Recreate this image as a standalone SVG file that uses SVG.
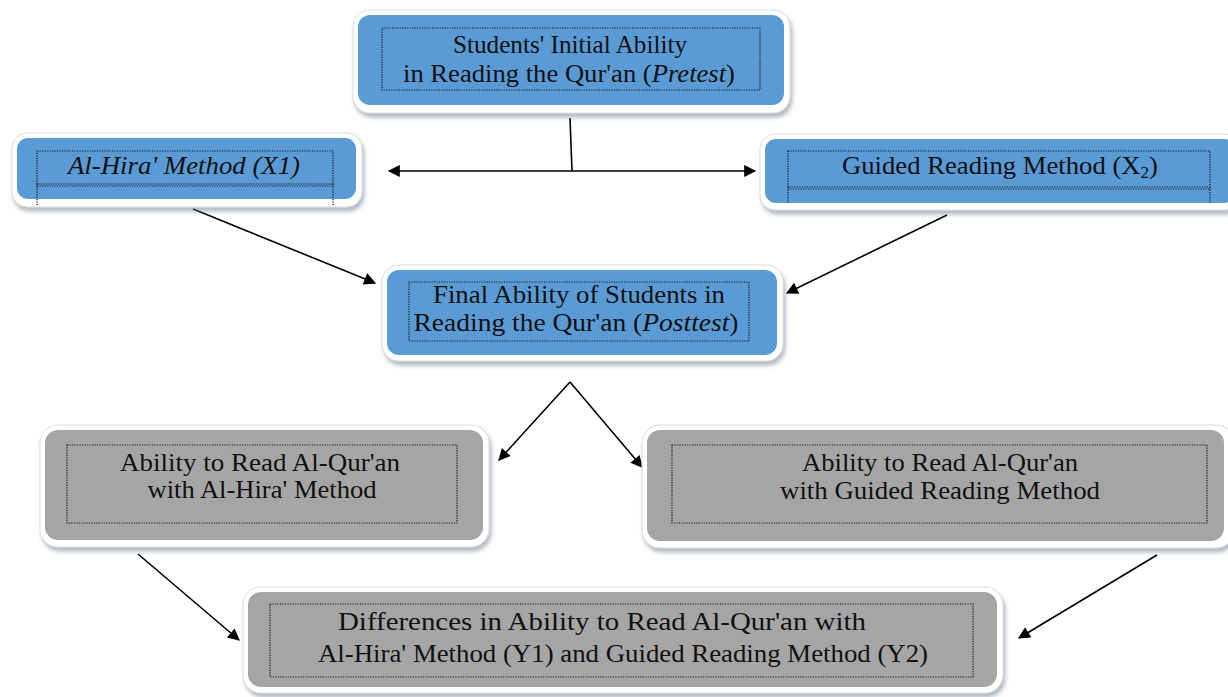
<svg xmlns="http://www.w3.org/2000/svg" width="1228" height="697" viewBox="0 0 1228 697">
<defs>
<filter id="sh" x="-10%" y="-20%" width="120%" height="150%">
<feDropShadow dx="2" dy="4" stdDeviation="2" flood-color="#6f7f90" flood-opacity="0.55"/>
</filter>
<marker id="ah" viewBox="0 0 10 10" refX="9" refY="5" markerWidth="15" markerHeight="12" markerUnits="userSpaceOnUse" orient="auto-start-reverse">
<path d="M0,0 L10,5 L0,10 z" fill="#000"/>
</marker>
</defs>
<style>
.frame{fill:#ffffff;stroke:#dcdcdc;stroke-width:1;filter:url(#sh)}
.blue{fill:#5b9bd5}
.gray{fill:#a5a5a5}
.dot{fill:none;stroke:#1a1a1a;stroke-width:1.2;stroke-dasharray:1.2 1.3}
.t{font-family:'Liberation Serif','DejaVu Serif','Times New Roman',serif;font-size:25px;fill:#111;text-anchor:middle}
.c{stroke:#000;stroke-width:1.6;fill:none}
</style>
<rect width="1228" height="697" fill="#ffffff"/>

<g id="connectors">
<line class="c" x1="570" y1="118" x2="572" y2="171"/>
<line class="c" x1="389" y1="171" x2="755" y2="171" marker-start="url(#ah)" marker-end="url(#ah)"/>
<line class="c" x1="193" y1="209" x2="375" y2="283" marker-end="url(#ah)"/>
<line class="c" x1="947" y1="215" x2="787" y2="293" marker-end="url(#ah)"/>
<line class="c" x1="570" y1="382" x2="499" y2="460" marker-end="url(#ah)"/>
<line class="c" x1="570" y1="382" x2="642" y2="467" marker-end="url(#ah)"/>
<line class="c" x1="138" y1="554" x2="239" y2="640" marker-end="url(#ah)"/>
<line class="c" x1="1157" y1="555" x2="1019" y2="638" marker-end="url(#ah)"/>
</g>

<g id="pretest">
<rect class="frame" x="353" y="10" width="437" height="103" rx="17"/>
<rect class="blue" x="358" y="15" width="426" height="90" rx="12"/>
<rect class="dot" x="382" y="28" width="378" height="62"/>
<text class="t" x="570" y="53" textLength="234" lengthAdjust="spacingAndGlyphs">Students' Initial Ability</text>
<text class="t" x="569" y="82" textLength="332" lengthAdjust="spacingAndGlyphs">in Reading the Qur'an (<tspan font-style="italic">Pretest</tspan>)</text>
</g>

<g id="x1">
<rect class="frame" x="12" y="133" width="350" height="74" rx="15"/>
<rect class="blue" x="17" y="138" width="339" height="61" rx="11"/>
<rect class="dot" x="37" y="151" width="296" height="33"/>
<line class="dot" x1="37" y1="186" x2="333" y2="186"/>
<line class="dot" x1="37" y1="184" x2="37" y2="206"/>
<line class="dot" x1="333" y1="184" x2="333" y2="206"/>
<text class="t" x="184" y="174" font-style="italic" textLength="232" lengthAdjust="spacingAndGlyphs">Al-Hira' Method (X1)</text>
</g>

<g id="x2">
<rect class="frame" x="760" y="134" width="480" height="76" rx="15"/>
<rect class="blue" x="765" y="139" width="470" height="64" rx="11"/>
<rect class="dot" x="788" y="151" width="422" height="36"/>
<line class="dot" x1="788" y1="189" x2="1210" y2="189"/>
<line class="dot" x1="788" y1="187" x2="788" y2="203"/>
<line class="dot" x1="1210" y1="187" x2="1210" y2="203"/>
<text class="t" x="1000" y="174" textLength="316" lengthAdjust="spacingAndGlyphs">Guided Reading Method (X<tspan font-size="16" dy="4">2</tspan><tspan dy="-4">)</tspan></text>
</g>

<g id="posttest">
<rect class="frame" x="382" y="265" width="401" height="96" rx="17"/>
<rect class="blue" x="387" y="270" width="390" height="85" rx="12"/>
<rect class="dot" x="409" y="282" width="340" height="59"/>
<text class="t" x="579" y="303" textLength="292" lengthAdjust="spacingAndGlyphs">Final Ability  of Students in</text>
<text class="t" x="576" y="331" textLength="325" lengthAdjust="spacingAndGlyphs">Reading the Qur'an (<tspan font-style="italic">Posttest</tspan>)</text>
</g>

<g id="y1">
<rect class="frame" x="40" y="425" width="449" height="122" rx="18"/>
<rect class="gray" x="45" y="430" width="438" height="110" rx="13"/>
<rect class="dot" x="67" y="445" width="390" height="78"/>
<text class="t" x="260" y="471" textLength="280" lengthAdjust="spacingAndGlyphs">Ability to Read Al-Qur'an</text>
<text class="t" x="262" y="498" textLength="229" lengthAdjust="spacingAndGlyphs">with Al-Hira' Method</text>
</g>

<g id="y2">
<rect class="frame" x="642" y="425" width="592" height="123" rx="18"/>
<rect class="gray" x="647" y="430" width="577" height="111" rx="13"/>
<rect class="dot" x="672" y="445" width="535" height="78"/>
<text class="t" x="940" y="471" textLength="276" lengthAdjust="spacingAndGlyphs">Ability to Read Al-Qur'an</text>
<text class="t" x="940" y="499" textLength="320" lengthAdjust="spacingAndGlyphs">with Guided Reading Method</text>
</g>

<g id="diff">
<rect class="frame" x="243" y="587" width="760" height="106" rx="18"/>
<rect class="gray" x="248" y="592" width="749" height="95" rx="13"/>
<rect class="dot" x="270" y="604" width="703" height="73"/>
<text class="t" x="602" y="630" textLength="528" lengthAdjust="spacingAndGlyphs">Differences in Ability  to Read Al-Qur'an with</text>
<text class="t" x="623" y="662" textLength="610" lengthAdjust="spacingAndGlyphs">Al-Hira' Method (Y1) and Guided Reading Method (Y2)</text>
</g>
</svg>
